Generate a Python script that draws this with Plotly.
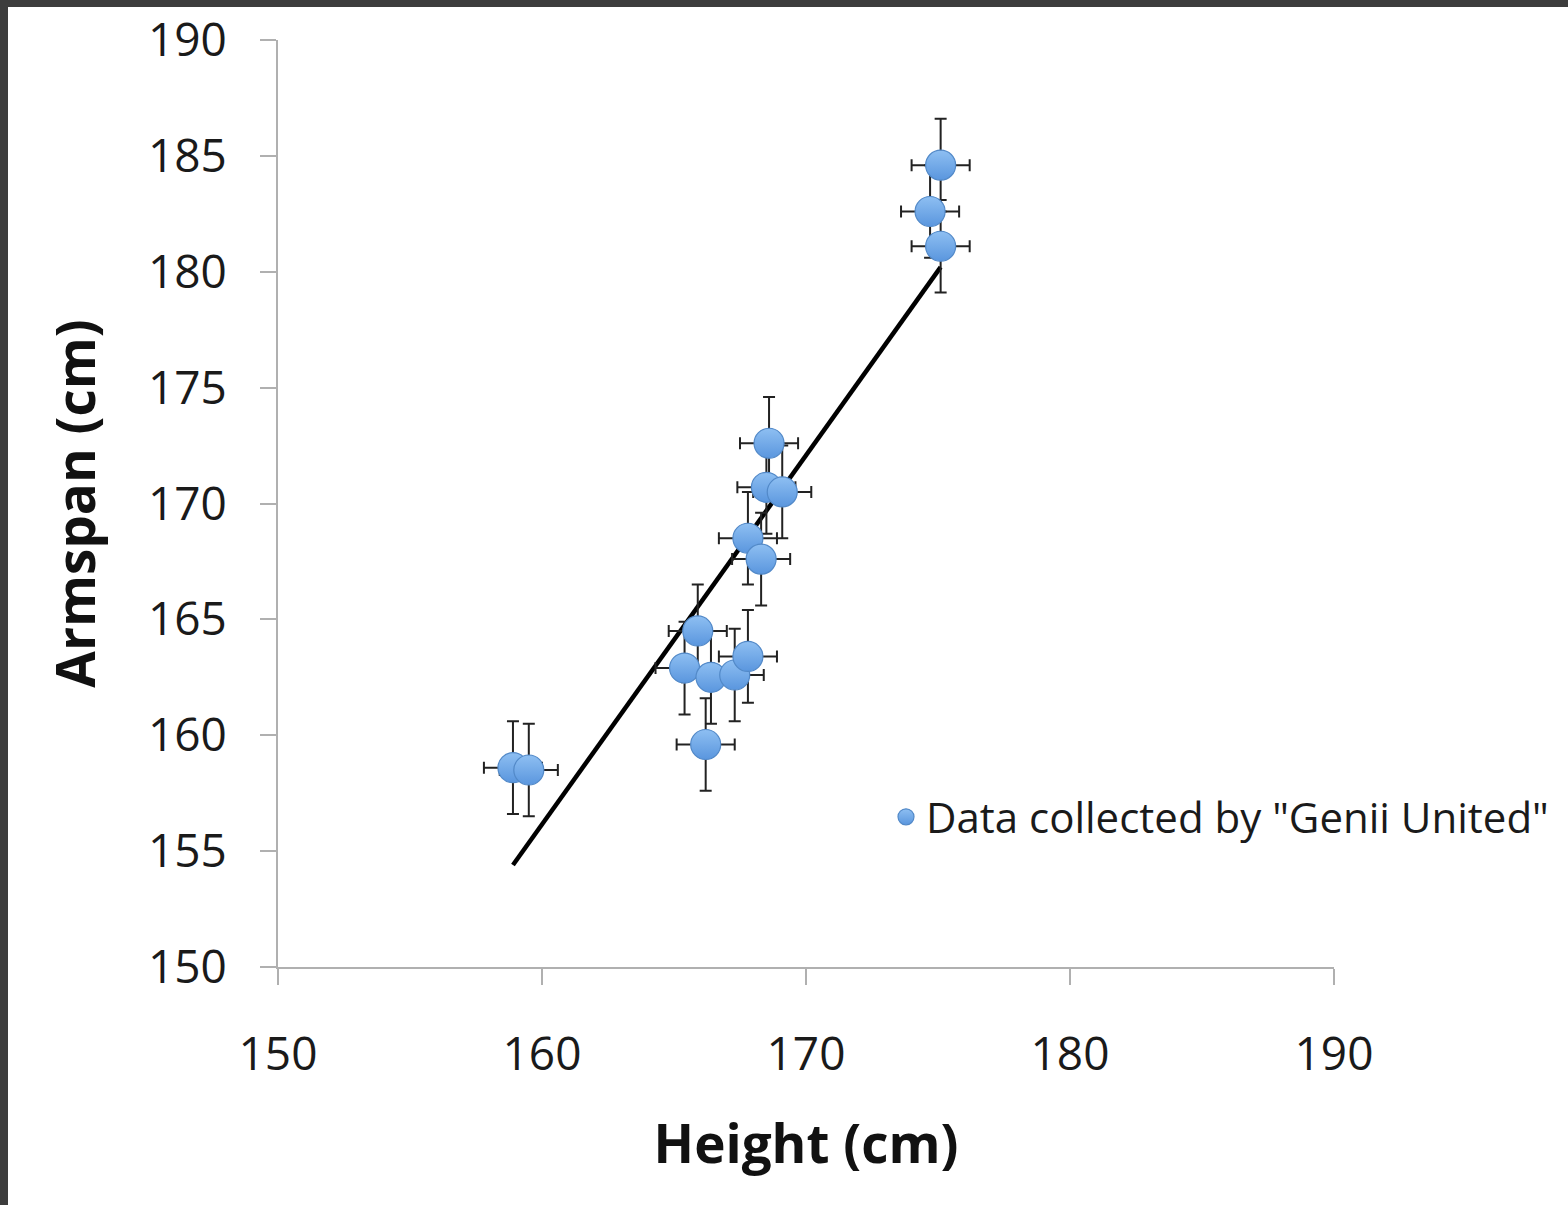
import plotly.graph_objects as go

# ---- data ----
height_cm = [158.9, 159.5, 165.9, 165.4, 166.4, 167.3, 167.8, 166.2,
             168.6, 168.5, 169.1, 167.8, 168.3, 175.1, 174.7, 175.1]
armspan_cm = [158.6, 158.5, 164.5, 162.9, 162.5, 162.6, 163.4, 159.6,
              172.6, 170.7, 170.5, 168.5, 167.6, 184.6, 182.6, 181.1]
height_err = [1.1] * len(height_cm)
armspan_err = [2.0] * len(armspan_cm)
trend_x = [158.9, 175.1]
trend_y = [154.4, 180.2]
x_ticks = [150, 160, 170, 180, 190]
y_ticks = [150, 155, 160, 165, 170, 175, 180, 185, 190]
series_name = 'Data collected by "Genii United"'

W, H = 1568, 1205
L, R, T, B = 278, 234, 40, 238
plot_w = W - L - R
plot_h = H - T - B

def px_x(px):
    return (px - L) / plot_w

def px_y(py):
    return (H - B - py) / plot_h

FONT = "Open Sans"

fig = go.Figure()

fig.add_trace(go.Scatter(
    x=trend_x, y=trend_y, mode="lines",
    line=dict(color="black", width=4.5),
    showlegend=False, hoverinfo="skip",
))

fig.add_trace(go.Scatter(
    x=height_cm, y=armspan_cm, mode="markers", name=series_name,
    marker=dict(size=30, color="#8ebff2",
                gradient=dict(type="vertical", color="#5a96de"),
                line=dict(color="#5289c8", width=1.2)),
    error_x=dict(type="data", array=height_err, visible=True,
                 color="#222222", thickness=2, width=6),
    error_y=dict(type="data", array=armspan_err, visible=True,
                 color="#222222", thickness=2, width=6),
))

axis_common = dict(
    showgrid=False, zeroline=False, showline=True,
    linecolor="#b0b0b0", linewidth=2,
    ticks="outside", ticklen=16, tickwidth=2, tickcolor="#b0b0b0",
    tickfont=dict(family=FONT, size=46, color="#1a1a1a"),
    mirror=False,
)

fig.update_xaxes(
    range=[150, 190], tickvals=x_ticks, ticktext=[str(v) for v in x_ticks],
    title=dict(text="<b>Height (cm)</b>", font=dict(family=FONT, size=53, color="#111"),
               standoff=44),
    ticklabelstandoff=30,
    **axis_common,
)
fig.update_yaxes(
    range=[150, 190], tickvals=y_ticks, ticktext=[str(v) for v in y_ticks],
    title=dict(text="<b>Armspan (cm)</b>", font=dict(family=FONT, size=53, color="#111"),
               standoff=35),
    ticklabelstandoff=24,
    **axis_common,
)

shapes = [
    dict(type="rect", xref="paper", yref="paper", layer="below",
         x0=px_x(0), x1=px_x(8), y0=px_y(H), y1=px_y(0),
         fillcolor="#3d3d3d", line=dict(width=0)),
    dict(type="rect", xref="paper", yref="paper", layer="below",
         x0=px_x(0), x1=px_x(W), y0=px_y(7), y1=px_y(0),
         fillcolor="#3d3d3d", line=dict(width=0)),
]

fig.update_layout(
    width=W, height=H,
    margin=dict(l=L, r=R, t=T, b=B, autoexpand=False),
    paper_bgcolor="white", plot_bgcolor="white",
    shapes=shapes,
    showlegend=True,
    legend=dict(x=px_x(886), y=px_y(817), xanchor="left", yanchor="middle",
                font=dict(family=FONT, size=42, color="#1a1a1a"),
                bgcolor="rgba(0,0,0,0)", itemsizing="trace", itemwidth=30),
)

fig.write_html("out.html")
